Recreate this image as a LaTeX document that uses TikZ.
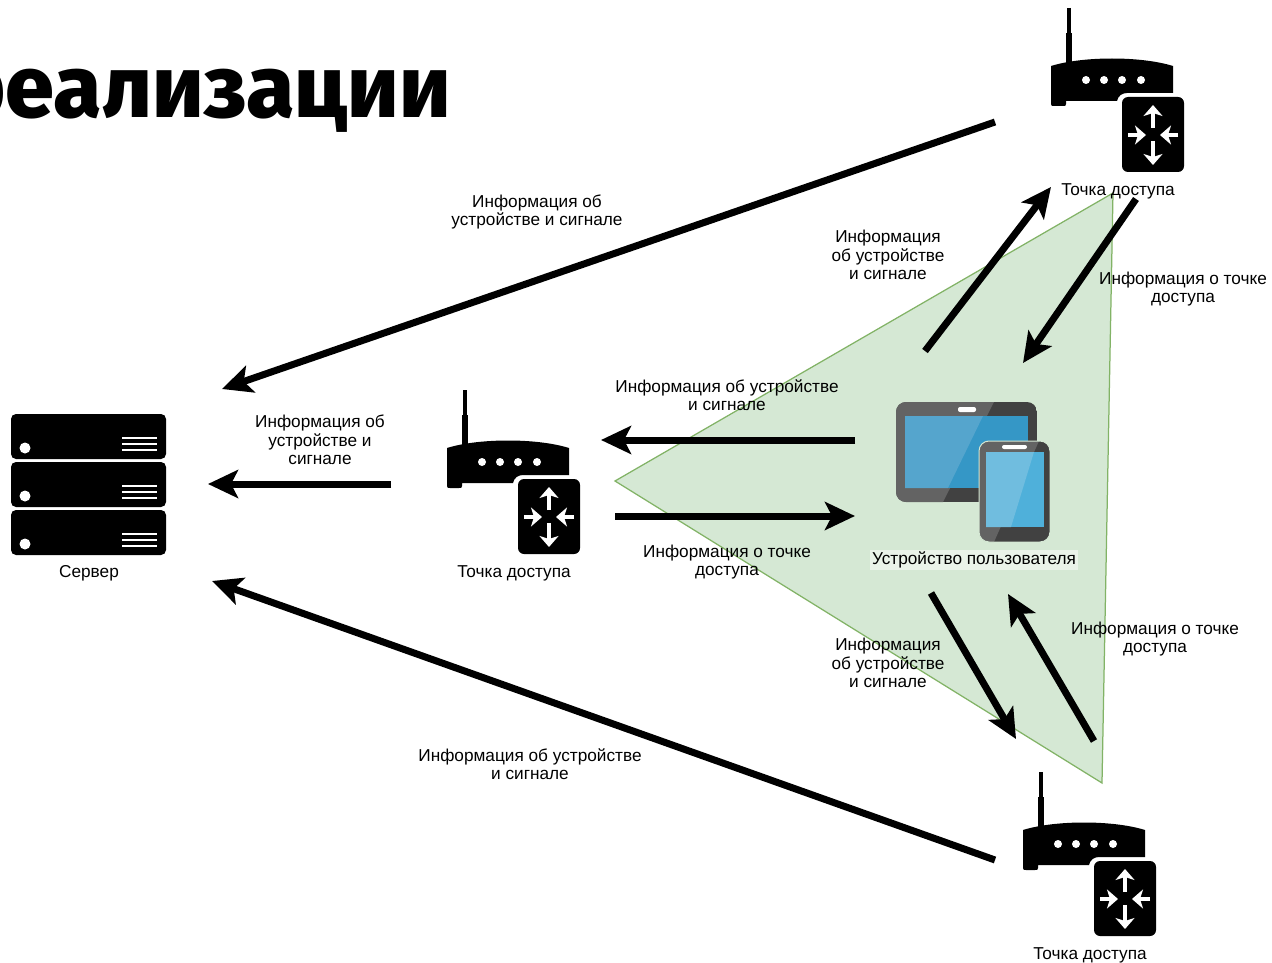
\documentclass[tikz,border=0pt]{standalone}
\usepackage{fontspec}
\setmainfont{Liberation Sans}
\newfontfamily\titlefont{Fira Sans ExtraBold}
\usetikzlibrary{positioning, arrows.meta}

\definecolor{areaFill}{HTML}{D5E8D4}
\definecolor{areaLine}{HTML}{82B366}
\definecolor{bezelLight}{HTML}{636363}
\definecolor{bezelDark}{HTML}{414141}
\definecolor{tabletLight}{HTML}{55A5CD}
\definecolor{tabletDark}{HTML}{3597C6}
\definecolor{phoneLight}{HTML}{70BDDF}
\definecolor{phoneDark}{HTML}{4FB0DA}

\tikzset{
  % server rack, origin at the top left of the stack
  serverunit/.pic={
    \fill[black, rounded corners=0.1cm] (0,0) rectangle (155,45);
    \fill[white] (14,34) circle[radius=5.5];
    \foreach \yy in {24,30,36}
      \draw[white, line width=0.055cm] (111,\yy) -- (146,\yy);
  },
  % access point, origin at the centre of the black square
  accesspoint/.pic={
    \draw[black, line width=0.07cm] (-84,-127) -- (-84,-102);
    \draw[black, line width=0.13cm] (-84,-102) -- (-84,-72);
    \fill[black] (-102,-69) .. controls (-70,-79) and (-12,-79) .. (20,-69)
      -- (20,-42) -- (-26,-42) .. controls (-31,-42) and (-35,-39) .. (-36,-34)
      -- (-87,-34) -- (-87,-31) .. controls (-87,-29) and (-88,-29) .. (-90,-29)
      -- (-99,-29) .. controls (-101,-29) and (-102,-29) .. (-102,-31) -- cycle;
    \foreach \xx in {-67,-49,-31,-12}
      \fill[white] (\xx,-55) circle[radius=4];
    \fill[black, rounded corners=0.12cm] (-31,-38) rectangle (31,37);
    \draw[apflow] (0,-7) -- (0,-30);
    \draw[apflow] (0,6) -- (0,30);
    \draw[apflow] (-25,0) -- (-7,0);
    \draw[apflow] (25,0) -- (7,0);
  },
  % tablet and phone, origin at the top left of the tablet
  userdevice/.pic={
    \begin{scope}
      \clip[rounded corners=0.2cm] (0,0) rectangle (141,100);
      \fill[bezelDark] (0,0) rectangle (141,100);
      \fill[bezelLight] (0,0) -- (98,0) -- (47,100) -- (0,100) -- cycle;
    \end{scope}
    \fill[tabletDark] (9,14) rectangle (132,86);
    \fill[tabletLight] (9,14) -- (87,14) -- (52,86) -- (9,86) -- cycle;
    \fill[white, rounded corners=0.04cm] (62,5) rectangle (80,10);
    \begin{scope}
      \clip[rounded corners=0.2cm] (83,39) rectangle (154,140);
      \fill[bezelDark] (83,39) rectangle (154,140);
      \fill[bezelLight] (83,39) -- (143,39) -- (98,140) -- (83,140) -- cycle;
    \end{scope}
    \draw[areaFill, line width=0.02cm, rounded corners=0.2cm] (83,39) rectangle (154,140);
    \fill[phoneDark] (90,50) rectangle (148,125);
    \fill[phoneLight] (90,50) -- (138,50) -- (115,125) -- (90,125) -- cycle;
    \fill[white, rounded corners=0.04cm] (106,43) rectangle (131,47);
  }
}

\begin{document}
\begin{tikzpicture}[x=0.02cm, y=-0.02cm, >={Stealth[length=0.6cm, width=0.56cm, inset=0.14cm]},
        every node/.style={font=\fontsize{9.8}{10.5}\selectfont, align=center, inner sep=0pt},
        flow/.style={->, black, line width=0.14cm},
        apflow/.style={-{Stealth[length=0.22cm, width=0.38cm, inset=0.06cm]}, white, line width=0.08cm}]
      \useasboundingbox (0,0) rectangle (1272,963);
      \clip (0,0) rectangle (1272,963);

      % Coverage area
      \fill[areaFill, draw=areaLine, line width=0.025cm] (1113,193) -- (615,481) -- (1102,783) -- cycle;

      % Title
      \node[anchor=base east, font=\titlefont\fontsize{50}{60}\selectfont] (title) at (451,118) {реализации};

      % Equipment
      \pic (srvA) at (11,414) {serverunit};
      \pic (srvB) at (11,462) {serverunit};
      \pic (srvC) at (11,510) {serverunit};
      \pic (apMid) at (549,517) {accesspoint};
      \pic (apTop) at (1153,135) {accesspoint};
      \pic (apBot) at (1125,899) {accesspoint};
      \pic (device) at (896,402) {userdevice};

      % Captions
      \node (srvLabel) at (89,573) {Сервер};
      \node (apMidLabel) at (514,573) {Точка доступа};
      \node (apTopLabel) at (1118,191) {Точка доступа};
      \node (apBotLabel) at (1090,955) {Точка доступа};
      \node[fill=white, fill opacity=0.5, text opacity=1, inner sep=1pt] (deviceLabel) at (974,560) {Устройство пользователя};

      % Arrow labels
      \node (infoA) at (537,212) {Информация об\\устройстве и сигнале};
      \node (infoB) at (320,440) {Информация об\\устройстве и\\сигнале};
      \node (infoC) at (727,395) {Информация об устройстве\\и сигнале};
      \node (infoD) at (727,562) {Информация о точке\\доступа};
      \node (infoE) at (888,255) {Информация\\об устройстве\\и сигнале};
      \node (infoF) at (1183,289) {Информация о точке\\доступа};
      \node (infoG) at (888,663) {Информация\\об устройстве\\и сигнале};
      \node (infoH) at (1155,639) {Информация о точке\\доступа};
      \node (infoI) at (530,764) {Информация об устройстве\\и сигнале};

      % Arrow ends
      \coordinate (topStart) at (995,122);
      \coordinate (topEnd) at (222,389);
      \coordinate (midStart) at (391,484);
      \coordinate (midEnd) at (208,484);
      \coordinate (botStart) at (995,860);
      \coordinate (botEnd) at (212,581);
      \coordinate (devMidStart) at (855,440);
      \coordinate (devMidEnd) at (601,440);
      \coordinate (midDevStart) at (615,516);
      \coordinate (midDevEnd) at (855,516);
      \coordinate (devTopStart) at (925,351);
      \coordinate (devTopEnd) at (1051,187);
      \coordinate (topDevStart) at (1136,199);
      \coordinate (topDevEnd) at (1023,363);
      \coordinate (devBotStart) at (931,593);
      \coordinate (devBotEnd) at (1016,739);
      \coordinate (botDevStart) at (1094,741);
      \coordinate (botDevEnd) at (1008,594);

      \draw[flow] (topStart) -- (topEnd);
      \draw[flow] (midStart) -- (midEnd);
      \draw[flow] (botStart) -- (botEnd);
      \draw[flow] (devMidStart) -- (devMidEnd);
      \draw[flow] (midDevStart) -- (midDevEnd);
      \draw[flow] (devTopStart) -- (devTopEnd);
      \draw[flow] (topDevStart) -- (topDevEnd);
      \draw[flow] (devBotStart) -- (devBotEnd);
      \draw[flow] (botDevStart) -- (botDevEnd);
    \end{tikzpicture}
\end{document}
